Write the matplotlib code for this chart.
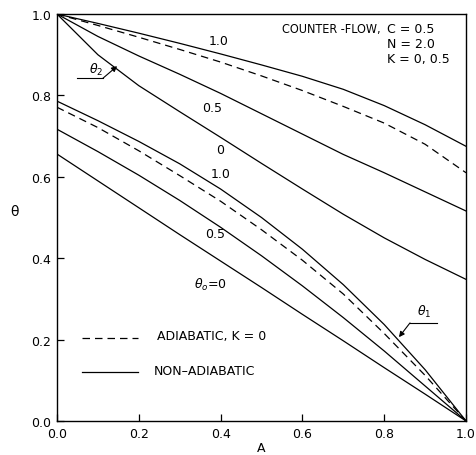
import numpy as np
import matplotlib
matplotlib.use("Agg")
import matplotlib.pyplot as plt

# A grid used for all curves
A = [0.0, 0.1, 0.2, 0.3, 0.4, 0.5, 0.6, 0.7, 0.8, 0.9, 1.0]

# theta_2 curves (start at 1.0 when A=0)
t2_k10 = [1.0, 0.977, 0.953, 0.928, 0.902, 0.875, 0.847, 0.815, 0.775, 0.728, 0.675]
t2_adia = [1.0, 0.972, 0.943, 0.913, 0.882, 0.848, 0.812, 0.773, 0.732, 0.68, 0.61]
t2_k05 = [1.0, 0.945, 0.897, 0.852, 0.805, 0.755, 0.705, 0.655, 0.61, 0.563, 0.516]
t2_k0 = [1.0, 0.9, 0.824, 0.76, 0.697, 0.633, 0.570, 0.508, 0.45, 0.397, 0.348]

# theta_1 curves (end at 0 when A=1)
t1_k10 = [0.786, 0.738, 0.687, 0.632, 0.57, 0.50, 0.422, 0.335, 0.237, 0.126, 0.0]
t1_adia = [0.771, 0.721, 0.664, 0.603, 0.54, 0.47, 0.395, 0.312, 0.215, 0.112, 0.0]
t1_k05 = [0.717, 0.662, 0.604, 0.542, 0.476, 0.406, 0.332, 0.254, 0.172, 0.086, 0.0]
t1_k0 = [0.656, 0.59, 0.524, 0.458, 0.393, 0.328, 0.262, 0.197, 0.131, 0.066, 0.0]

ticks = [0.0, 0.2, 0.4, 0.6, 0.8, 1.0]
tick_labels = ["0.0", "0.2", "0.4", "0.6", "0.8", "1.0"]

fig = plt.figure(figsize=(4.77, 4.56), dpi=100)
ax = fig.add_axes([0.1195, 0.0746, 0.8575, 0.8924])

solid = dict(color="black", lw=0.9)
dashed = dict(color="black", lw=0.9, linestyle=(0, (6, 4)))

for y in [t2_k10, t2_k05, t2_k0, t1_k10, t1_k05, t1_k0]:
    ax.plot(A, y, **solid)
for y in [t2_adia, t1_adia]:
    ax.plot(A, y, **dashed)

ax.set_xlim(0, 1)
ax.set_ylim(0, 1)
ax.set_xticks(ticks)
ax.set_xticklabels(tick_labels)
ax.set_yticks(ticks)
ax.set_yticklabels(tick_labels)
ax.tick_params(direction="in", length=5, width=0.9, labelsize=9, pad=4)
for s in ax.spines.values():
    s.set_linewidth(1.0)

ax.set_xlabel("A", fontsize=9, labelpad=1)
ax.set_ylabel("\u03b8", fontsize=10, rotation=0, labelpad=12)

fs = 9
# curve labels
ax.text(0.394, 0.934, "1.0", fontsize=fs, ha="center", va="center")
ax.text(0.38, 0.77, "0.5", fontsize=fs, ha="center", va="center")
ax.text(0.40, 0.668, "0", fontsize=fs, ha="center", va="center")
ax.text(0.40, 0.607, "1.0", fontsize=fs, ha="center", va="center")
ax.text(0.386, 0.46, "0.5", fontsize=fs, ha="center", va="center")
ax.text(0.374, 0.337, "$\\theta_o$=0", fontsize=fs, ha="center", va="center")

# header text
ax.text(0.79, 0.965, "COUNTER -FLOW,", fontsize=9, ha="right", va="center",
        fontstretch="condensed")
ax.text(0.807, 0.965, "C = 0.5", fontsize=fs, ha="left", va="center")
ax.text(0.807, 0.928, "N = 2.0", fontsize=fs, ha="left", va="center")
ax.text(0.807, 0.891, "K = 0, 0.5", fontsize=fs, ha="left", va="center")

# theta_2 leader
ax.plot([0.049, 0.112], [0.842, 0.842], color="black", lw=0.8)
ax.annotate("", xy=(0.147, 0.872), xytext=(0.112, 0.842),
            arrowprops=dict(arrowstyle="-|>", color="black", lw=0.8,
                            mutation_scale=8, shrinkA=0, shrinkB=0))
ax.text(0.095, 0.866, "$\\theta_2$", fontsize=fs, ha="center", va="center")

# theta_1 leader
ax.plot([0.863, 0.929], [0.241, 0.241], color="black", lw=0.8)
ax.annotate("", xy=(0.836, 0.206), xytext=(0.863, 0.241),
            arrowprops=dict(arrowstyle="-|>", color="black", lw=0.8,
                            mutation_scale=8, shrinkA=0, shrinkB=0))
ax.text(0.897, 0.27, "$\\theta_1$", fontsize=fs, ha="center", va="center")

# legend
ax.plot([0.061, 0.198], [0.204, 0.204], **dashed)
ax.text(0.245, 0.21, "ADIABATIC, K = 0", fontsize=fs, ha="left", va="center")
ax.plot([0.061, 0.198], [0.12, 0.12], **solid)
ax.text(0.237, 0.123, "NON\u2013ADIABATIC", fontsize=fs, ha="left", va="center")

fig.savefig("out.png", dpi=100)
